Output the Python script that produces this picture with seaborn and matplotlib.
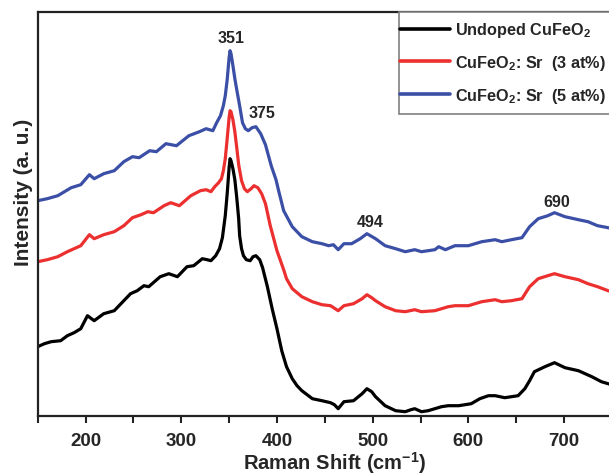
import matplotlib
matplotlib.use("Agg")
import matplotlib.pyplot as plt
from matplotlib.patches import Rectangle
import seaborn as sns
import pandas as pd

# Raman spectra (arbitrary intensity units, curves stacked for clarity)
undoped_shift = [150, 157, 164, 174, 181, 188, 195, 202, 209, 219, 230, 240, 247, 254, 261, 266,
                 272, 278, 287, 296, 306, 313, 322, 327, 331, 336, 340, 343, 346, 348, 350, 351,
                 352, 354, 356, 358, 360, 361, 363, 365, 368, 372, 375, 378, 382, 385, 390, 395,
                 400, 405, 410, 416, 421, 426, 437, 447, 456, 460, 464, 470, 480, 489, 494, 499,
                 503, 513, 524, 534, 540, 544, 551, 558, 565, 572, 579, 590, 603, 612, 621, 628,
                 638, 652, 659, 664, 669, 680, 690, 701, 715, 729, 739, 746, 760, 771]
undoped_int = [69, 72, 74, 75, 80, 83, 87, 100, 95, 102, 105, 115, 122, 125, 130, 129,
               134, 139, 142, 139, 149, 150, 157, 156, 155, 160, 167, 178, 200, 222, 248, 257,
               255, 247, 236, 218, 197, 180, 167, 160, 156, 155, 159, 160, 156, 148, 129, 107,
               87, 65, 49, 37, 30, 25, 17, 15, 13, 11, 7, 14, 15, 22, 27, 24,
               19, 10, 5, 4, 6, 7, 4, 5, 7, 9, 10, 10, 12, 17, 20, 20,
               18, 20, 27, 35, 44, 49, 53, 48, 45, 39, 34, 32, 28, 26]

sr3_shift = [150, 160, 171, 181, 188, 195, 204, 209, 219, 230, 240, 249, 258, 265, 271, 282,
             289, 298, 310, 320, 326, 331, 335, 339, 342, 344, 346, 348, 350, 351, 352, 354,
             356, 358, 360, 363, 366, 369, 373, 376, 380, 384, 388, 393, 400, 407, 410, 416,
             426, 437, 447, 456, 464, 470, 480, 489, 494, 499, 503, 513, 524, 534, 544, 551,
             565, 579, 586, 600, 614, 628, 635, 645, 656, 664, 673, 683, 690, 701, 715, 725,
             735, 746, 760, 771]
sr3_int = [154, 156, 159, 164, 167, 170, 181, 177, 181, 184, 190, 198, 201, 204, 203, 210,
           213, 210, 220, 225, 226, 224, 229, 233, 237, 245, 257, 277, 298, 305, 304, 296,
           284, 268, 251, 235, 227, 224, 227, 230, 228, 222, 212, 190, 165, 146, 137, 127,
           119, 114, 111, 110, 105, 110, 112, 117, 121, 118, 115, 109, 105, 104, 106, 104,
           105, 109, 110, 110, 114, 116, 114, 115, 117, 129, 137, 140, 142, 139, 136, 132,
           129, 125, 121, 119]

sr5_shift = [150, 160, 171, 185, 195, 204, 209, 219, 230, 240, 249, 256, 267, 274, 284, 295,
             308, 319, 326, 333, 337, 341, 344, 346, 348, 350, 351, 352, 354, 356, 358, 361,
             364, 367, 370, 374, 378, 383, 388, 394, 399, 402, 407, 416, 426, 437, 447, 454,
             459, 464, 470, 478, 487, 494, 503, 513, 524, 534, 544, 551, 565, 569, 576, 586,
             600, 614, 628, 635, 645, 656, 664, 673, 683, 690, 701, 715, 725, 735, 746, 760,
             771]
sr5_int = [215, 217, 220, 228, 231, 241, 237, 242, 245, 254, 259, 258, 265, 264, 272, 270,
           280, 284, 287, 285, 293, 300, 310, 320, 336, 358, 365, 362, 350, 337, 326, 310,
           293, 287, 285, 288, 289, 282, 271, 250, 236, 224, 205, 189, 179, 174, 172, 170,
           171, 166, 172, 172, 177, 182, 177, 170, 167, 164, 166, 164, 166, 169, 166, 170,
           170, 174, 176, 174, 176, 178, 189, 197, 200, 203, 199, 196, 194, 190, 188, 185,
           183]

series_labels = ["Undoped CuFeO$_2$", "CuFeO$_2$: Sr  (3 at%)", "CuFeO$_2$: Sr  (5 at%)"]
series_colors = ["#000000", "#ec2f2f", "#3b4fa6"]

# peak annotations: (text, x position, y position)
peak_labels = [("351", 352, 378), ("375", 384, 303), ("494", 497, 194), ("690", 692, 214)]

xtick_values = [200, 300, 400, 500, 600, 700]

frames = []
for sx, si, lab in [(undoped_shift, undoped_int, series_labels[0]),
                    (sr3_shift, sr3_int, series_labels[1]),
                    (sr5_shift, sr5_int, series_labels[2])]:
    frames.append(pd.DataFrame({"shift": sx, "intensity": si, "sample": lab}))
df = pd.concat(frames, ignore_index=True)

sns.set_style("ticks")
plt.rcParams["font.family"] = ["Liberation Sans", "DejaVu Sans"]
plt.rcParams["font.weight"] = "bold"
plt.rcParams["mathtext.fontset"] = "custom"
plt.rcParams["mathtext.rm"] = "Liberation Sans:bold"
plt.rcParams["mathtext.bf"] = "Liberation Sans:bold"
plt.rcParams["mathtext.it"] = "Liberation Sans:bold"
plt.rcParams["mathtext.default"] = "bf"

W, H = 609, 477
ax_left, ax_right, ax_top, ax_bottom = 37.7, 632.0, 12.7, 416.7
fig = plt.figure(figsize=(W / 100, H / 100), dpi=100)
ax = fig.add_axes([ax_left / W, (H - ax_bottom) / H, (ax_right - ax_left) / W,
                   (ax_bottom - ax_top) / H])

sns.lineplot(data=df, x="shift", y="intensity", hue="sample", hue_order=series_labels,
             palette=series_colors, linewidth=2.3, estimator=None, sort=False, ax=ax,
             legend=True)

ax.set_xlim(150, 771)
ax.set_ylim(0, 404)
ax.set_xticks(xtick_values)
ax.set_xticks(range(150, 800, 50), minor=True)
ax.set_yticks([])
ax.tick_params(axis="x", which="both", direction="out", length=5, width=1.5,
               labelsize=13.5, pad=7, color="#222222")
for lbl in ax.get_xticklabels():
    lbl.set_fontweight("bold")

for side in ["left", "top", "bottom", "right"]:
    ax.spines[side].set_linewidth(1.6)
    ax.spines[side].set_color("#222222")

ax.set_xlabel("Raman Shift (cm$^{-1}$)", fontsize=14.5, fontweight="bold")
ax.xaxis.set_label_coords(0.5, -(450 - ax_bottom) / (ax_bottom - ax_top))
ax.xaxis.label.set_verticalalignment("top")
ax.set_ylabel("Intensity (a. u.)", fontsize=15, fontweight="bold")
ax.yaxis.set_label_coords(-0.008, (ax_bottom - 192) / (ax_bottom - ax_top))

for txt, px, py in peak_labels:
    ax.text(px, py, txt, ha="center", va="center", fontsize=11.5, fontweight="bold")

# legend box, open past the right edge of the figure
axw, axh = ax_right - ax_left, ax_bottom - ax_top
box_x0 = (399 - ax_left) / axw
box_y0 = (ax_bottom - 115) / axh
ax.add_patch(Rectangle((box_x0, box_y0), 0.6, 1 - box_y0, transform=ax.transAxes,
                       facecolor="white", edgecolor="#808080", linewidth=1.2,
                       clip_on=False, zorder=4))

leg = ax.legend(loc="center left", bbox_to_anchor=((400 - ax_left) / axw, (ax_bottom - 63.5) / axh),
                borderaxespad=0, borderpad=0, frameon=False, fontsize=11.7,
                handlelength=3.1, handletextpad=0.3, labelspacing=0.85, title=None)
leg.set_zorder(5)
for t in leg.get_texts():
    t.set_fontweight("bold")
for h in leg.get_lines():
    h.set_linewidth(2.6)

fig.savefig("out.png", dpi=100)
